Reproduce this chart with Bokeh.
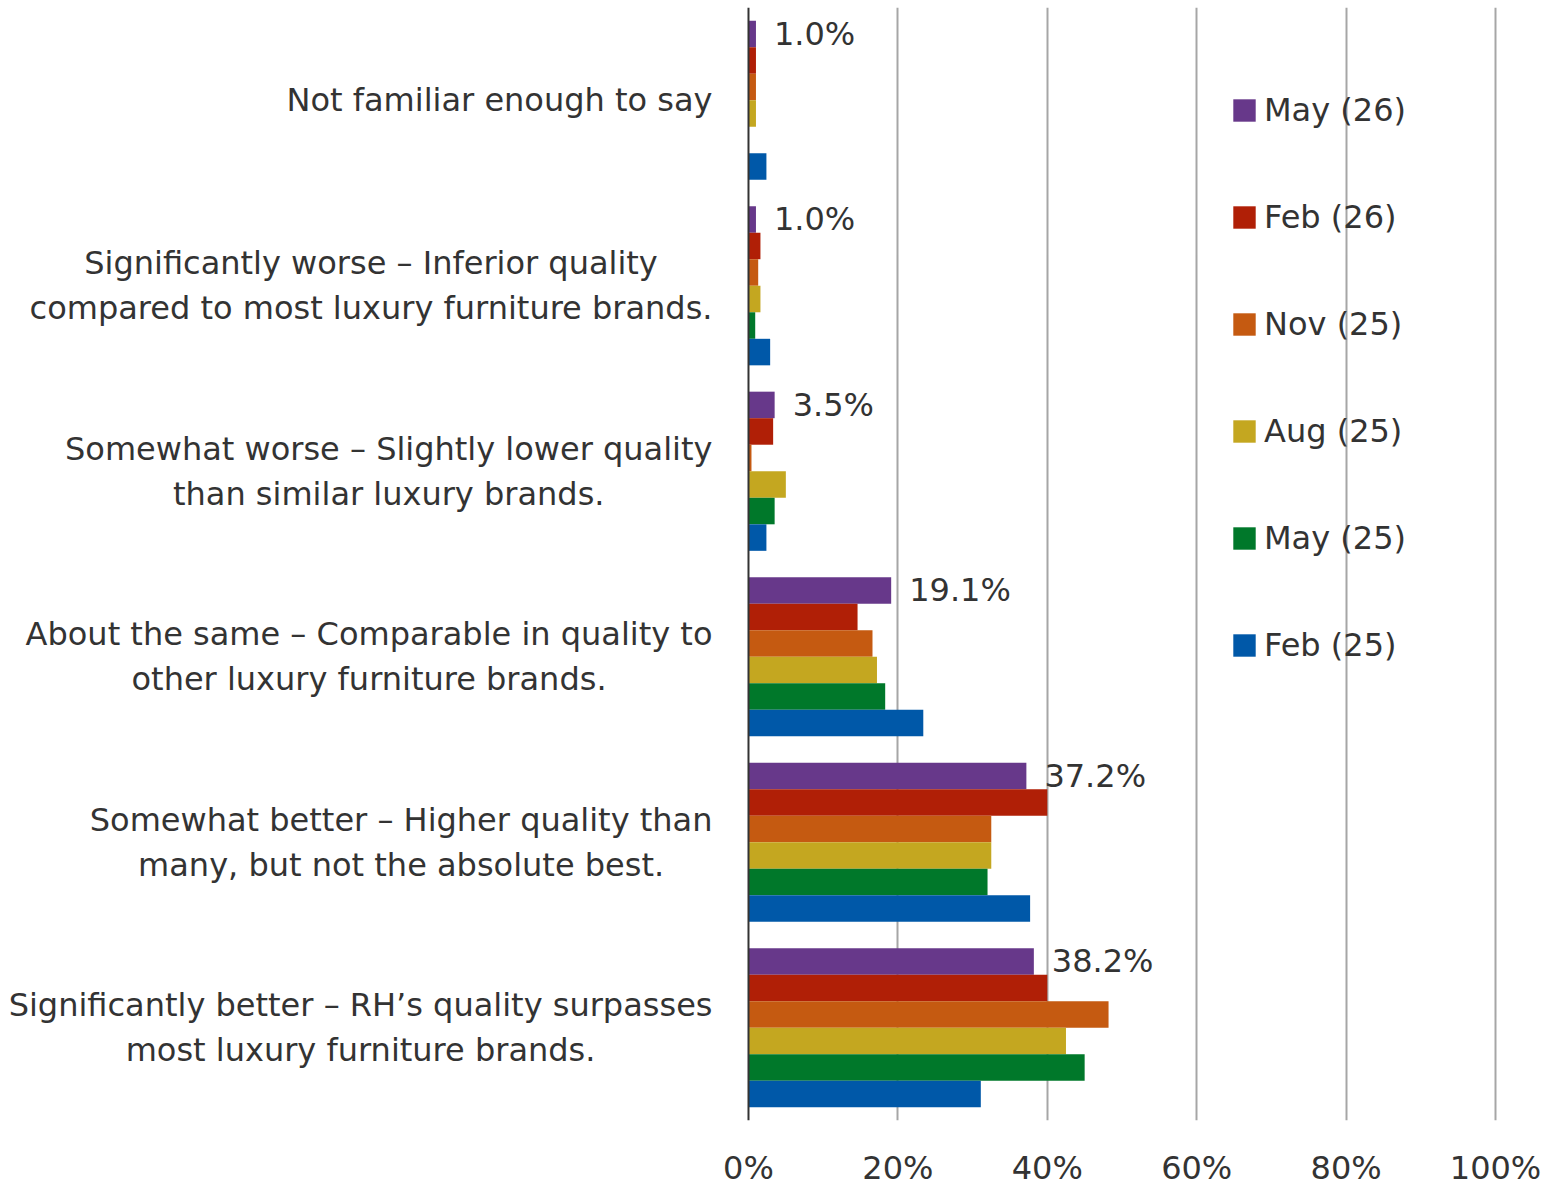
from bokeh.plotting import figure
from bokeh.models import Range1d, FixedTicker, Span, Legend, LegendItem, ColumnDataSource
from bokeh.core.properties import value
from bokeh.embed import file_html
from bokeh.resources import INLINE

# ---- data ----
categories = [
    "Not familiar enough to say",
    "Significantly worse \u2013 Inferior quality\ncompared to most luxury furniture brands.",
    "Somewhat worse \u2013 Slightly lower quality\nthan similar luxury brands.",
    "About the same \u2013 Comparable in quality to\nother luxury furniture brands.",
    "Somewhat better \u2013 Higher quality than\nmany, but not the absolute best.",
    "Significantly better \u2013 RH\u2019s quality surpasses\nmost luxury furniture brands.",
]
series_names = ["May (26)", "Feb (26)", "Nov (25)", "Aug (25)", "May (25)", "Feb (25)"]
may_26 = [1.0, 1.0, 3.5, 19.1, 37.2, 38.2]
feb_26 = [1.0, 1.6, 3.3, 14.6, 40.0, 40.0]
nov_25 = [1.0, 1.3, 0.4, 16.6, 32.5, 48.2]
aug_25 = [1.0, 1.6, 5.0, 17.2, 32.5, 42.5]
may_25 = [0.0, 0.9, 3.5, 18.3, 32.0, 45.0]
feb_25 = [2.4, 2.9, 2.4, 23.4, 37.7, 31.1]
tick_values = [0, 20, 40, 60, 80, 100]
tick_labels = ["0%", "20%", "40%", "60%", "80%", "100%"]

series_values = [may_26, feb_26, nov_25, aug_25, may_25, feb_25]
colors = ["#67388A", "#B01F06", "#C55A11", "#C4A720", "#00782A", "#0058A8"]

FONT = "DejaVu Sans"
TXT = "#333333"
FS = "32px"

p = figure(width=1560, height=1190, output_backend="svg", toolbar_location=None,
           x_range=Range1d(-100.13, 108.70), y_range=Range1d(0, 6),
           min_border_left=0, min_border_right=0, min_border_top=7, min_border_bottom=70)
p.outline_line_color = None
p.yaxis.visible = False
p.ygrid.visible = False

p.xgrid.ticker = FixedTicker(ticks=tick_values[1:])
p.xgrid.grid_line_color = "#A6A6A6"
p.xgrid.grid_line_width = 2

ax = p.xaxis[0]
ax.ticker = FixedTicker(ticks=tick_values)
ax.major_label_overrides = {v: l for v, l in zip(tick_values, tick_labels)}
ax.axis_line_color = None
ax.major_tick_line_color = None
ax.minor_tick_line_color = None
ax.major_tick_out = 0
ax.major_tick_in = 0
ax.minor_tick_out = 0
ax.minor_tick_in = 0
ax.major_label_standoff = 28
ax.major_label_text_font = FONT
ax.major_label_text_font_size = FS
ax.major_label_text_color = TXT

n_cat = len(categories)
bar_h = 0.143
centers = [n_cat - 0.5 - i for i in range(n_cat)]

items = []
for j, (name, vals, col) in enumerate(zip(series_names, series_values, colors)):
    ys = [c + (2.5 - j) * bar_h for c in centers]
    src = ColumnDataSource(dict(y=ys, right=vals))
    r = p.hbar(y="y", left=0, right="right", height=bar_h, source=src,
               fill_color=col, line_color=None)
    items.append(LegendItem(label=name, renderers=[r]))

# zero axis line
p.add_layout(Span(location=0, dimension="height", line_color="#333333", line_width=2))

# value labels for latest series
ys0 = [c + 2.5 * bar_h for c in centers]
p.text(x=may_26, y=ys0, text=[f"{v:.1f}%" for v in may_26], x_offset=18,
       text_align="left", text_baseline="middle", text_font=value(FONT),
       text_font_size=FS, text_color=TXT)

# category labels
p.text(x=[0] * n_cat, y=centers, text=categories, x_offset=-36,
       anchor=value("center_right"), text_align="center", text_baseline="middle",
       text_font=value(FONT), text_font_size=FS, text_color=TXT,
       text_line_height=1.19)

legend = Legend(items=items, location=(1230, 456), orientation="vertical",
                glyph_width=28, glyph_height=28, label_height=38, spacing=69,
                label_standoff=6, padding=0, margin=0,
                border_line_color=None, background_fill_alpha=0,
                label_text_font=FONT, label_text_font_size=FS, label_text_color=TXT)
p.add_layout(legend)

open("out.html", "w").write(file_html(p, INLINE))
